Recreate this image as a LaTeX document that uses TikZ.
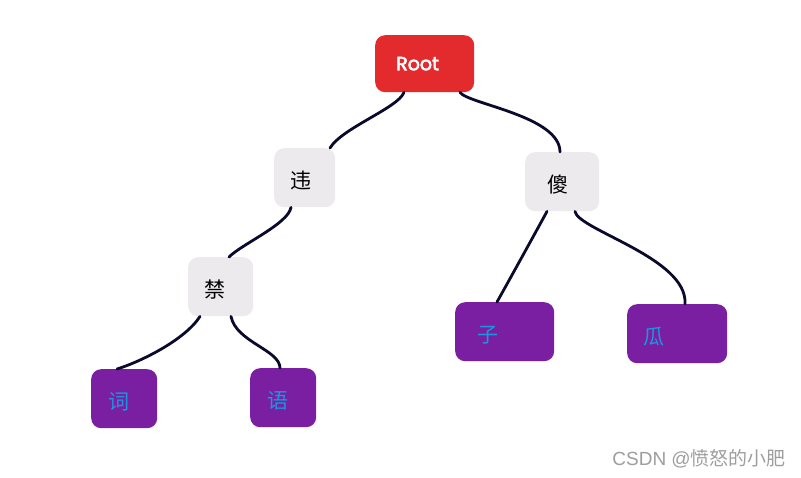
\documentclass[tikz,border=0pt]{standalone}
\usepackage{fontspec}
\newfontfamily\cjk{Noto Sans CJK SC}
\newfontfamily\popfont{Poppins}[FakeBold=3]
\newfontfamily\arialfont{Liberation Sans}
\definecolor{rootred}{HTML}{E32B2E}
\definecolor{midgray}{HTML}{ECEAED}
\definecolor{leafpurple}{HTML}{7B1FA2}
\definecolor{leaftext}{HTML}{1A96E0}
\definecolor{edgecol}{HTML}{0A0A2C}
\definecolor{wmgray}{HTML}{9E9E9E}
\tikzset{
  bx/.style={rounded corners=10pt, anchor=north west, minimum height=59pt, inner ysep=0pt, align=left},
  rootbox/.style={bx, fill=rootred, text=white, minimum height=57pt, font=\popfont\fontsize{19}{22}\selectfont},
  cjkbox/.style={bx, text height=21pt, text depth=0pt, font=\cjk\fontsize{21}{24}\selectfont},
  midbox/.style={cjkbox, fill=midgray, text=black},
  leafbox/.style={cjkbox, fill=leafpurple, text=leaftext},
  edge/.style={draw=edgecol, line width=2.8pt, line cap=round},
}
\begin{document}
\begin{tikzpicture}[x=1pt,y=-1pt]
\useasboundingbox[fill=white] (0,0) rectangle (801,478);
\node[rootbox, inner xsep=21pt, text width=57pt] (root) at (375,35) {Root};
\node[midbox, inner xsep=16pt, text width=29pt] (wei) at (274,148) {违};
\node[midbox, inner xsep=22pt, text width=30pt] (sha) at (525,152) {傻};
\node[midbox, inner xsep=16pt, text width=33pt] (jin) at (188,257) {禁};
\node[leafbox, inner xsep=17pt, text width=32pt] (ci) at (91,369) {词};
\node[leafbox, inner xsep=17pt, text width=32pt] (yu) at (250,368) {语};
\node[leafbox, inner xsep=22pt, text width=55pt] (zi) at (455,302) {子};
\node[leafbox, inner xsep=16pt, text width=68pt] (gua) at (627,304) {瓜};
\node[anchor=east, inner sep=0pt, text=wmgray, font=\fontsize{19}{21}\selectfont] (wm) at (786,459) {{\arialfont CSDN @}{\cjk 愤怒的小肥}};
\draw[edge] ([xshift=29pt]root.south west) .. controls (398,108) and (342,128) .. ([xshift=56pt]wei.north west);
\draw[edge] ([xshift=85pt]root.south west) .. controls (468,104) and (560,116) .. ([xshift=35pt]sha.north west);
\draw[edge] ([xshift=17pt]wei.south west) .. controls (288,224) and (242,244) .. ([xshift=41pt]jin.north west);
\draw[edge] ([xshift=12pt]jin.south west) .. controls (185,340) and (140,362) .. ([xshift=26pt]ci.north west);
\draw[edge] ([xshift=43pt]jin.south west) .. controls (236,342) and (280,350) .. ([xshift=30pt]yu.north west);
\draw[edge] ([xshift=22pt]sha.south west) .. controls (538,228) and (506,286) .. ([xshift=42pt]zi.north west);
\draw[edge] ([xshift=50pt]sha.south west) .. controls (578,230) and (688,258) .. ([xshift=58pt]gua.north west);
\end{tikzpicture}
\end{document}
